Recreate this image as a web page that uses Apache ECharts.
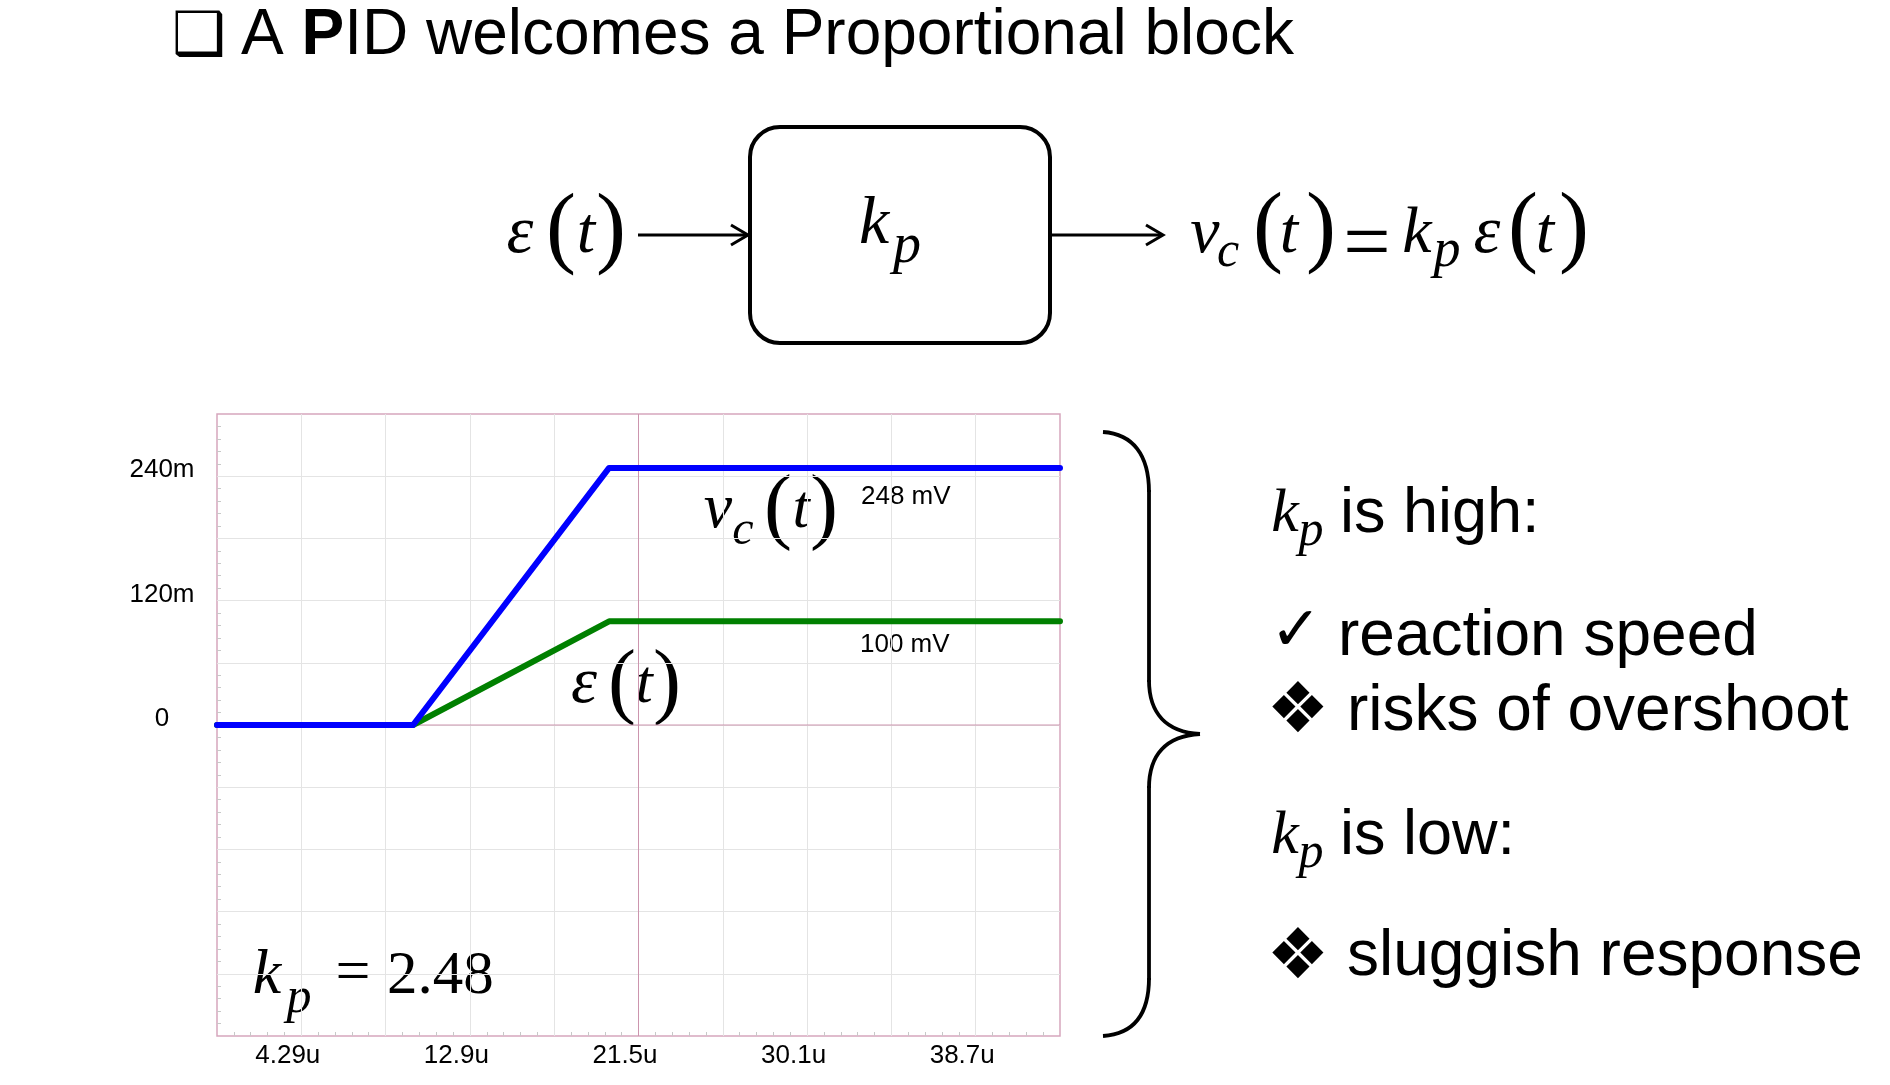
<!DOCTYPE html>
<html>
<head>
<meta charset="utf-8">
<script src="https://cdn.jsdelivr.net/npm/echarts@6/dist/echarts.min.js"></script>
<style>
html,body{margin:0;padding:0;background:#fff;}
#c{width:1890px;height:1085px;}
</style>
</head>
<body>
<div id="c"></div>
<script>
// ---- data ----
const timeUs = [0, 10, 20, 43];          // time axis points (µs)
const vcMv = [0, 0, 248, 248];           // controller output v_c(t) (mV)
const epsMv = [0, 0, 100, 100];          // error signal ε(t) (mV)
const kp = 2.48;
const xTickLabels = ['4.29u', '12.9u', '21.5u', '30.1u', '38.7u'];
const yLabelValues = [0, 120, 240];
const yLabelTexts = ['0', '120m', '240m'];
const xMin = 0, xMax = 43, xStep = 4.3;
const yMin = -300, yMax = 300, yStep = 60;

const SERIF = "'Liberation Serif', 'Times New Roman', serif";
const SANS = "'Liberation Sans', Arial, sans-serif";
const DEJA = "'DejaVu Sans', sans-serif";

function glyph(cx, base, text, size, italic, fam, bold) {
  fam = fam || SERIF;
  const k = fam === SERIF ? 0.3375 : 0.3465;
  return {type: 'text', x: cx, y: base - k * size, silent: true,
    style: {text: text, fontSize: size, fontFamily: fam, fontStyle: italic ? 'italic' : 'normal',
      fontWeight: bold ? 'bold' : 'normal',
      fill: '#000', align: 'center', verticalAlign: 'middle'}};
}
function paren(cx, cy, text, size) {
  return {type: 'text', x: cx, y: cy - 0.079 * size, silent: true,
    style: {text: text, fontSize: size, fontFamily: SERIF, fill: '#000', align: 'center', verticalAlign: 'middle'}};
}
function sans(x, base, text, size) {
  return {type: 'text', x: x, y: base - 0.3465 * size, silent: true,
    style: {text: text, fontSize: size, fontFamily: SANS, fill: '#000', align: 'left', verticalAlign: 'middle'}};
}
function arrow(x1, x2, y) {
  return [
    {type: 'line', shape: {x1: x1, y1: y, x2: x2 - 1, y2: y}, style: {stroke: '#000', lineWidth: 3}},
    {type: 'polyline', shape: {points: [[x2 - 17, y - 10], [x2, y], [x2 - 17, y + 10]]},
      style: {stroke: '#000', lineWidth: 3, fill: null}}
  ];
}
function bez(x1, y1, c1x, c1y, c2x, c2y, x2, y2) {
  return {type: 'bezierCurve', shape: {x1: x1, y1: y1, cpx1: c1x, cpy1: c1y, cpx2: c2x, cpy2: c2y, x2: x2, y2: y2},
    style: {stroke: '#000', lineWidth: 3.8, fill: null}};
}
function seg(x1, y1, x2, y2, w) {
  return {type: 'line', shape: {x1: x1, y1: y1, x2: x2, y2: y2}, style: {stroke: '#000', lineWidth: w || 3.8}};
}

const g = [];
// title
g.push(glyph(199, 59, '\u2751', 60, false, DEJA));
g.push({type: 'text', x: 241, y: 59 - 0.3465 * 64, silent: true,
  style: {text: '{n|A }{b|P}{n|ID welcomes a Proportional block}', verticalAlign: 'middle', align: 'left',
    rich: {n: {fontSize: 64, fontFamily: SANS, fill: '#000'},
           b: {fontSize: 64, fontFamily: SANS, fontWeight: 'bold', fill: '#000'}}}});
// block diagram
g.push({type: 'rect', shape: {x: 750, y: 127, width: 300, height: 216, r: 30},
  style: {stroke: '#000', lineWidth: 4, fill: '#fff'}});
g.push(...arrow(638, 748, 235));
g.push(...arrow(1050, 1163, 235));
// ε(t) input
g.push(glyph(520, 257, 'ε', 68, true));
g.push(paren(561, 239, '(', 90));
g.push(glyph(586, 257, 't', 66, true));
g.push(paren(611, 239, ')', 90));
// k_p in block
g.push(glyph(874, 248, 'k', 68, true));
g.push(glyph(907, 266, 'p', 56, true));
// v_c(t) = k_p ε(t)
g.push(glyph(1205, 257, 'v', 66, true));
g.push(glyph(1228, 270, 'c', 50, true));
g.push(paren(1268, 238, '(', 90));
g.push(glyph(1289, 257, 't', 66, true));
g.push(paren(1321, 238, ')', 90));
g.push(glyph(1367, 276, '=', 84, false));
g.push(glyph(1417, 257, 'k', 66, true));
g.push(glyph(1447, 270, 'p', 54, true));
g.push(glyph(1487, 257, 'ε', 68, true));
g.push(paren(1523, 238, '(', 90));
g.push(glyph(1545, 257, 't', 66, true));
g.push(paren(1574, 238, ')', 90));
// chart annotations
g.push(glyph(718, 532, 'v', 64, true));
g.push(glyph(743, 548, 'c', 48, true));
g.push(paren(778, 518, '(', 84));
g.push(glyph(801, 532, 't', 62, true));
g.push(paren(824, 518, ')', 84));
g.push(glyph(584, 707, 'ε', 66, true));
g.push(paren(622, 693, '(', 84));
g.push(glyph(644, 707, 't', 62, true));
g.push(paren(667, 693, ')', 84));
g.push(sans(861, 506, vcMv[2] + ' mV', 26));
g.push(sans(860, 654, epsMv[2] + ' mV', 26));
g.push(glyph(267, 998, 'k', 64, true));
g.push(glyph(299, 1016, 'p', 50, true));
g.push(glyph(353, 996, '=', 62, false));
g.push({type: 'text', x: 387, y: 998 - 0.3375 * 61, silent: true,
  style: {text: kp.toFixed(2), fontSize: 61, fontFamily: SERIF, fill: '#000', align: 'left', verticalAlign: 'middle'}});
// brace
g.push(bez(1103, 432, 1133, 434, 1149, 455, 1149, 492));
g.push(seg(1149, 490, 1149, 682));
g.push(bez(1149, 680, 1149, 713, 1166, 732, 1200, 734));
g.push(bez(1200, 734, 1166, 736, 1149, 755, 1149, 788));
g.push(seg(1149, 786, 1149, 980));
g.push(bez(1149, 978, 1149, 1015, 1133, 1034, 1103, 1036));
// right text
g.push(glyph(1285, 536, 'k', 62, true));
g.push(glyph(1311, 549, 'p', 50, true));
g.push(sans(1340, 536, 'is high:', 63));
g.push(glyph(1296, 655, '\u2713', 62, false, DEJA, true));
g.push(sans(1338, 660, 'reaction speed', 64));
g.push(glyph(1298, 738, '\u2756', 70, false, DEJA));
g.push(sans(1347, 735, 'risks of overshoot', 64));
g.push(glyph(1285, 858, 'k', 62, true));
g.push(glyph(1311, 871, 'p', 50, true));
g.push(sans(1340, 858, 'is low:', 63));
g.push(glyph(1298, 984, '\u2756', 70, false, DEJA));
g.push(sans(1347, 980, 'sluggish response', 64));

const gridCol = '#e4e4e4';
const pink = '#d6a6bd';
const pinkDark = '#cc95ae';

const option = {
  animation: false,
  backgroundColor: '#fff',
  grid: {left: 217, top: 414, right: 830, bottom: 49, show: true, borderColor: pink, borderWidth: 1.5, backgroundColor: 'transparent'},
  xAxis: {
    type: 'value', min: xMin, max: xMax, interval: xStep,
    axisLine: {show: false, onZero: false},
    axisTick: {show: false, inside: true},
    minorTick: {show: true, splitNumber: 5, length: 4, lineStyle: {color: '#c8c8c8', width: 1}},
    splitLine: {show: true, showMinLine: false, showMaxLine: false, lineStyle: {color: gridCol, width: 1}},
    axisLabel: {
      fontSize: 26, fontFamily: SANS, color: '#000', margin: 20, verticalAlign: 'middle', align: 'center',
      padding: [0, 27, 0, 0],
      formatter: function (v) {
        const idx = Math.round(v / xStep);
        return (idx % 2 === 1) ? xTickLabels[(idx - 1) / 2] : '';
      }
    }
  },
  yAxis: {
    type: 'value', min: yMin, max: yMax, interval: yStep,
    axisLine: {show: false},
    axisTick: {show: false, inside: true},
    minorTick: {show: true, splitNumber: 5, length: 4, lineStyle: {color: '#c8c8c8', width: 1}},
    splitLine: {show: true, showMinLine: false, showMaxLine: false, lineStyle: {color: gridCol, width: 1}},
    axisLabel: {
      fontSize: 26, fontFamily: SANS, color: '#000', margin: 55, align: 'center', verticalAlign: 'bottom',
      lineHeight: 12,
      formatter: function (v) {
        const i = yLabelValues.indexOf(Math.round(v));
        return i >= 0 ? yLabelTexts[i] : '';
      }
    }
  },
  series: [
    {type: 'line', name: 'vline', silent: true, z: 1, symbol: 'none',
      data: [[(xMin + xMax) / 2, yMin], [(xMin + xMax) / 2, yMax]],
      lineStyle: {color: pinkDark, width: 1}},
    {type: 'line', name: 'hline', silent: true, z: 1, symbol: 'none',
      data: [[xMin, 0], [xMax, 0]],
      lineStyle: {color: pinkDark, width: 1}},
    {type: 'line', name: 'ε(t)', z: 3, symbol: 'none', silent: true,
      data: timeUs.map((t, i) => [t, epsMv[i]]),
      lineStyle: {color: '#008000', width: 6, cap: 'round', join: 'round'}},
    {type: 'line', name: 'vc(t)', z: 4, symbol: 'none', silent: true,
      data: timeUs.map((t, i) => [t, vcMv[i]]),
      lineStyle: {color: '#0000ff', width: 6, cap: 'round', join: 'round'}}
  ],
  graphic: {elements: g}
};

const chart = echarts.init(document.getElementById('c'));
chart.setOption(option);
</script>
</body>
</html>
